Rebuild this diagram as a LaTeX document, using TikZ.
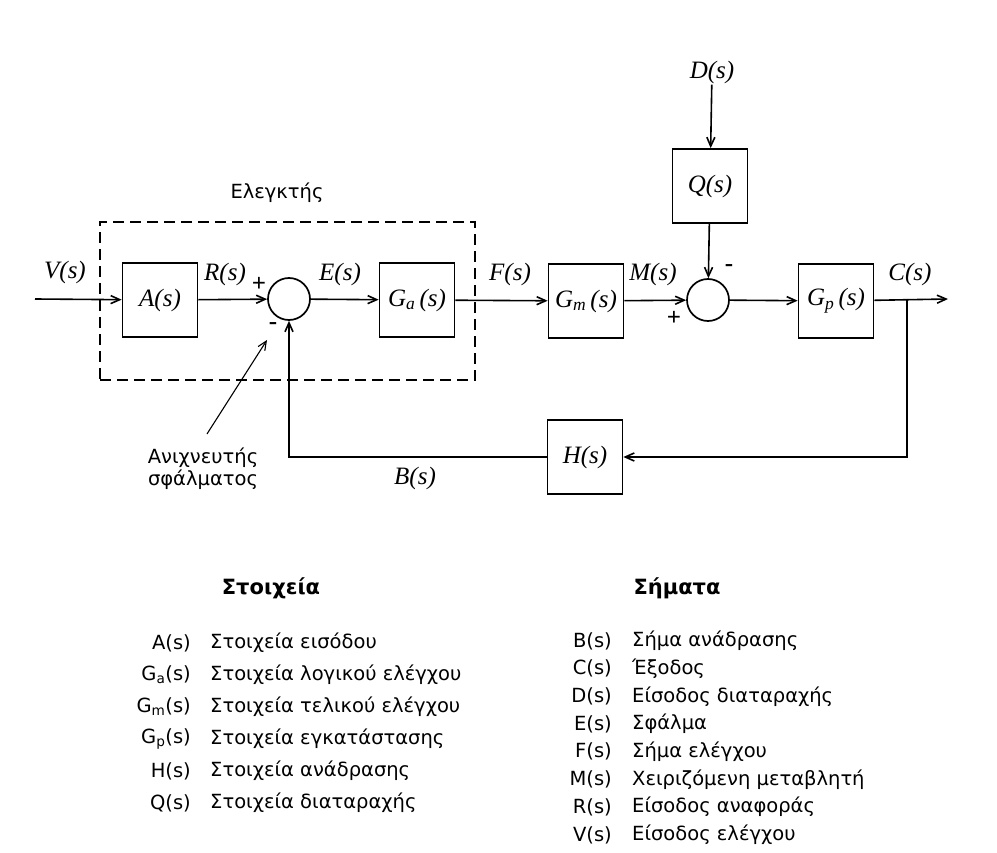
\documentclass[tikz,border=0pt]{standalone}
\usepackage{fontspec}
\setmainfont{Liberation Serif}
\newfontfamily\legendafont{DejaVu Sans}
\usepackage{tikz}
\usetikzlibrary{positioning,arrows.meta,calc}

\begin{document}
\begin{tikzpicture}[x=1pt,y=-1pt,
  bloco/.style={rectangle,draw,line width=1.7pt,minimum width=75pt,minimum height=74pt,inner sep=0pt,font=\fontsize{25}{28}\selectfont\itshape},
  soma/.style={circle,draw,line width=1.7pt,minimum size=42pt,inner sep=0pt},
  sinal/.style={font=\fontsize{25}{28}\selectfont\itshape,inner sep=1pt},
  sinalmais/.style={font=\fontsize{25}{27}\selectfont\bfseries,inner sep=0pt},
  seta/.style={-{Straight Barb[length=9pt,width=8pt]},line width=1.6pt},
  tracejado/.style={draw,line width=1.9pt,dash pattern=on 11pt off 6pt,minimum width=375pt,minimum height=158pt,inner sep=0pt},
  texto/.style={font=\fontsize{19.5}{22}\selectfont\legendafont,inner sep=0pt,align=center},
  titulo/.style={font=\fontsize{21}{24}\selectfont\legendafont\bfseries,inner sep=0pt}]
\useasboundingbox (0,0) rectangle (997,853);
% controlador
\node[tracejado] (ctrl) at (287.5,301) {};
\node[texto] (ctrlnome) at (277,193) {Ελεγκτής};
% blocos
\coordinate (vin) at (35,299);
\node[bloco] (A) at (160,300) {A(s)};
\node[soma] (s1) at (289,299) {};
\node[bloco] (Ga) at (417,300) {G\textsubscript{a}\,(s)};
\node[bloco] (Gm) at (586,301) {G\textsubscript{m}\,(s)};
\node[soma] (s2) at (708,300) {};
\node[bloco] (Q) at (710,186) {Q(s)};
\node[sinal] (D) at (712,72) {D(s)};
\node[bloco] (Gp) at (836,301) {G\textsubscript{p}\,(s)};
\coordinate (ramo) at (907,299);
\coordinate (cout) at (948,299);
\node[bloco] (H) at (585,457) {H(s)};
% setas
\draw[seta] (vin) -- (A);
\foreach \x/\y in {A/s1,s1/Ga,Ga/Gm,Gm/s2,s2/Gp,Gp/cout} \draw[seta] (\x)--(\y);
\draw[seta] (D) -- (Q);
\draw[seta] (Q) -- (s2);
\draw[seta] (ramo) |- (H.east);
\draw[seta] (H.west) -| (s1.south);
% sinais
\node[sinal] (Vl) at (65,272) {V(s)};
\node[sinal] (Rl) at (225,274) {R(s)};
\node[sinal] (El) at (340,274) {E(s)};
\node[sinal] (Fl) at (510,274) {F(s)};
\node[sinal] (Ml) at (653,274) {M(s)};
\node[sinal] (Cl) at (910,274) {C(s)};
\node[sinal] (Bl) at (415,478) {B(s)};
\node[sinalmais] (p1) at (259,284) {+};
\node[sinalmais] (m1) at (273,326) {-};
\node[sinalmais] (p2) at (674,318) {+};
\node[sinalmais] (m2) at (729,268) {-};
% ανιχνευτής
\node[texto] (det) at (203,469) {Ανιχνευτής\\σφάλματος};
\coordinate (detponta) at (267,340);
\draw[seta,line width=1.1pt] ([xshift=4pt,yshift=14pt]det.north) -- (detponta);
% legenda
\node[titulo] (tit1) at (271,588) {Στοιχεία};
\node[titulo] (tit2) at (677,588) {Σήματα};
\foreach \nome/\desc [count=\i from 0] in {A(s)/Στοιχεία εισόδου,G\textsubscript{a}(s)/Στοιχεία λογικού ελέγχου,G\textsubscript{m}(s)/Στοιχεία τελικού ελέγχου,G\textsubscript{p}(s)/Στοιχεία εγκατάστασης,H(s)/Στοιχεία ανάδρασης,Q(s)/Στοιχεία διαταραχής}
  {\node[texto,anchor=east] (en\i) at (191,643+32*\i) {\nome};
   \node[texto,anchor=west] (ed\i) at (210,643+32*\i) {\desc};}
\foreach \nome/\desc [count=\i from 0] in {B(s)/Σήμα ανάδρασης,C(s)/Έξοδος,D(s)/Είσοδος διαταραχής,E(s)/Σφάλμα,F(s)/Σήμα ελέγχου,M(s)/Χειριζόμενη μεταβλητή,R(s)/Είσοδος αναφοράς,V(s)/Είσοδος ελέγχου}
  {\node[texto,anchor=east] (sn\i) at (612,641+27.7*\i) {\nome};
   \node[texto,anchor=west] (sd\i) at (632,641+27.7*\i) {\desc};}
\end{tikzpicture}
\end{document}
